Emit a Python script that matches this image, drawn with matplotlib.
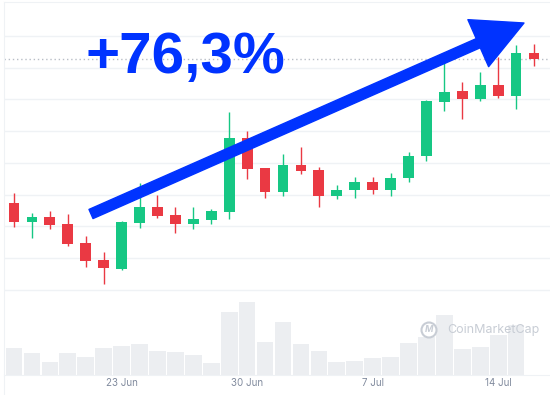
import matplotlib.pyplot as plt
import matplotlib.patches as mpatches
import pandas as pd

# daily candles, 17 Jun -> 16 Jul
start = "2023-06-17"
opens = [2.74, 2.15, 2.29, 2.08, 1.48, 0.94, 0.67, 2.10, 2.61, 2.36,
         2.07, 2.21, 2.46, 4.78, 3.84, 3.10, 3.95, 3.78, 2.96, 3.14,
         3.41, 3.15, 3.53, 4.22, 5.93, 6.27, 6.01, 6.46, 6.12, 7.47]
highs = [3.06, 2.43, 2.48, 2.39, 1.70, 1.20, 2.16, 3.38, 3.00, 2.60,
         2.60, 2.54, 5.60, 5.02, 3.84, 4.27, 4.50, 3.88, 3.31, 3.57,
         3.55, 3.68, 4.34, 5.98, 7.14, 6.54, 6.87, 7.35, 7.72, 7.75]
lows = [1.99, 1.65, 1.91, 1.38, 0.73, 0.18, 0.63, 1.96, 2.26, 1.80,
        1.93, 2.08, 2.23, 3.49, 2.91, 2.96, 3.65, 2.60, 2.86, 2.91,
        3.03, 2.96, 3.39, 4.07, 5.65, 5.38, 5.96, 6.06, 5.69, 7.06]
closes = [2.15, 2.29, 2.06, 1.46, 0.92, 0.68, 2.13, 2.61, 2.34, 2.08,
          2.24, 2.48, 4.78, 3.81, 3.10, 3.95, 3.76, 2.95, 3.15, 3.41,
          3.15, 3.54, 4.23, 5.95, 6.25, 6.02, 6.46, 6.12, 7.46, 7.28]
volumes = [27, 22, 13.4, 22, 18.4, 27, 29, 31.3, 24.3, 22.9,
           20.1, 12, 62.9, 73.4, 33.4, 53.1, 31.3, 23.6, 12.7, 14.5,
           16.6, 18.4, 32.4, 38.4, 59.7, 26.1, 28.2, 40, 50, 0]
tick_labels = ["23 Jun", "30 Jun", "7 Jul", "14 Jul"]

GREEN = "#16c784"
RED = "#ea3943"
GRID = "#eff2f5"
BLUE = "#0033ff"
MARK = "#c8cdd5"

dates = pd.date_range(start, periods=len(opens))
labels = [f"{d.day} {d.strftime('%b')}" for d in dates]
x = list(range(len(opens)))
ticks = [labels.index(t) for t in tick_labels]

fig = plt.figure(figsize=(5.5, 3.95), dpi=100)

# price axes over the whole picture
ax = fig.add_axes([4 / 550, 0, 1 - 4 / 550, 393 / 395])
ax.set_xlim(-0.558, 29.89)
ax.set_ylim(-3.307, 9.07)
ax.set_yticks(range(0, 9))
ax.set_xticks([])
ax.tick_params(left=False, labelleft=False)
ax.grid(axis="y", color=GRID, lw=1)
ax.set_axisbelow(True)
for side in ["right", "bottom"]:
    ax.spines[side].set_visible(False)
for side in ["left", "top"]:
    ax.spines[side].set_color(GRID)

colors = [GREEN if c >= o else RED for o, c in zip(opens, closes)]
ax.vlines(x, lows, highs, colors=colors, lw=1, zorder=2)
ax.bar(x, [abs(c - o) for o, c in zip(opens, closes)],
       bottom=[min(o, c) for o, c in zip(opens, closes)],
       width=0.6, color=colors, zorder=3)
ax.axhline(closes[-1], color="#b8bdc6", lw=1, ls=(0, (1, 2)), zorder=1)

# volume axes
vax = fig.add_axes([4 / 550, 20 / 395, 1 - 4 / 550, 80 / 395], sharex=ax)
vax.set_facecolor("none")
vax.bar(x, volumes, width=0.93, color="#eceef1", zorder=1)
vax.set_ylim(0, 80)
vax.set_yticks([])
for side in ["left", "right", "top"]:
    vax.spines[side].set_visible(False)
vax.spines["bottom"].set_color(GRID)
vax.set_xticks(ticks)
vax.set_xticklabels(tick_labels, fontsize=7, color="#808a9d", family="Inter")
vax.tick_params(axis="x", length=0, pad=2.5)

# watermark
vax.annotate("CoinMarketCap", xy=(447, 65), xycoords="figure pixels",
             fontsize=9, family="Inter", color=MARK, va="center",
             ha="left", zorder=5)
fig.add_artist(mpatches.Ellipse((429 / 550, 65 / 395), 15 / 550, 15 / 395,
                                fill=False, ec=MARK, lw=1.5))
fig.text(429 / 550, 65 / 395, "M", fontsize=6.5, family="Inter", style="italic",
         color=MARK, ha="center", va="center", weight="bold")

# headline and arrow
ax.annotate("+76,3%", xy=(86, 322), xycoords="figure pixels",
            fontsize=42, family="Liberation Sans", weight="bold",
            color=BLUE, ha="left", va="baseline")
ax.annotate("", xy=(524, 372), xytext=(91, 181),
            xycoords="figure pixels", textcoords="figure pixels",
            arrowprops=dict(arrowstyle="simple,head_length=36,head_width=37,tail_width=7.2",
                            mutation_scale=1, color=BLUE, shrinkA=0, shrinkB=0),
            zorder=6)

fig.savefig("out.png", dpi=100)
